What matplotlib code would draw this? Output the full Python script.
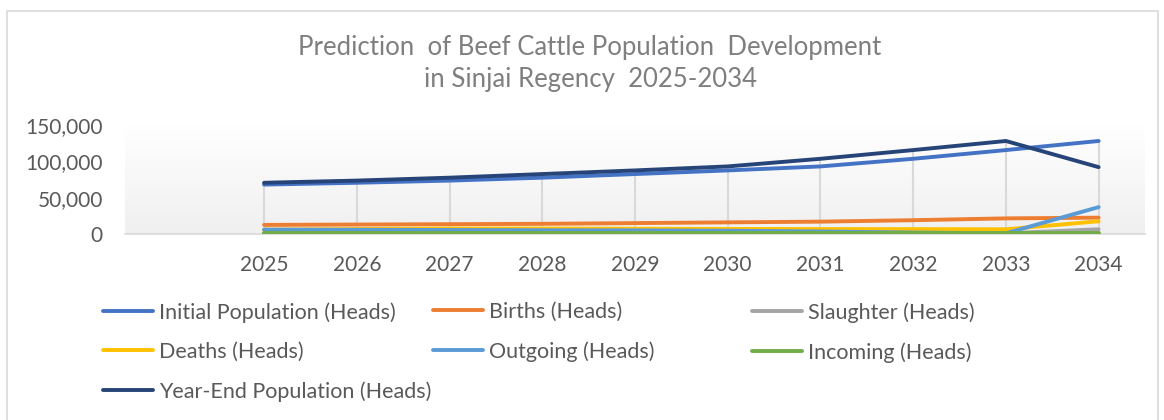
import matplotlib
matplotlib.use("Agg")
import matplotlib.pyplot as plt
import numpy as np
from matplotlib.lines import Line2D
from matplotlib.ticker import FuncFormatter

plt.rcParams["font.family"] = ["Lato", "DejaVu Sans"]

# data (heads); first category is blank in the source sheet
categories = ["", "2025", "2026", "2027", "2028", "2029", "2030", "2031", "2032", "2033", "2034"]
initial_population = [68000, 70500, 73500, 77500, 82500, 87500, 93000, 103500, 115500, 128000]
births = [12500, 13000, 13500, 14000, 15000, 16000, 17000, 19000, 21500, 22500]
slaughter = [1000, 1000, 1000, 1000, 1000, 1000, 1000, 1000, 1000, 6500]
deaths = [6000, 6800, 7500, 7500, 7300, 7000, 6800, 6700, 6500, 17500]
outgoing = [6000, 5800, 5500, 5200, 5000, 4500, 3500, 2000, 1000, 37000]
incoming = [800, 800, 800, 800, 800, 800, 800, 800, 800, 800]
year_end_population = [70500, 73500, 77500, 82500, 87500, 93000, 103500, 115500, 128000, 92000]

series = [
    ("Initial Population (Heads)", initial_population, "#4472C4"),
    ("Births (Heads)", births, "#ED7D31"),
    ("Slaughter (Heads)", slaughter, "#A5A5A5"),
    ("Deaths (Heads)", deaths, "#FFC000"),
    ("Outgoing (Heads)", outgoing, "#5B9BD5"),
    ("Incoming (Heads)", incoming, "#70AD47"),
    ("Year-End Population (Heads)", year_end_population, "#264478"),
]

W, H = 1164, 420
fig = plt.figure(figsize=(W / 100, H / 100), dpi=100)

# chart border
border = plt.Rectangle((7 / W, -0.05), 1151 / W, 1.05 - 11 / H, transform=fig.transFigure,
                       fill=False, edgecolor="#d9d9d9", linewidth=1.2)
fig.add_artist(border)

ax = fig.add_axes([125 / W, (H - 234) / H, 1020 / W, 109 / H])
ax.set_xlim(-0.5, len(categories) - 0.5)
ax.set_ylim(0, 150000)

# plot-area gradient
grad = np.linspace(0.0, 1.0, 256).reshape(-1, 1, 1)
top = np.array([1.0, 1.0, 1.0])
bottom = np.array([0.94, 0.94, 0.94])
img = top * (1 - grad) + bottom * grad
ax.imshow(img, extent=[-0.5, len(categories) - 0.5, 0, 150000], aspect="auto", zorder=0, origin="upper")

x = np.arange(1, len(categories))
all_vals = np.array([s[1] for s in series])
ax.vlines(x, 0, all_vals.max(axis=0), color="#d9d9d9", linewidth=1.5, zorder=1)

handles = {}
for name, vals, color in series:
    ax.plot(x, vals, color=color, linewidth=2.8, solid_capstyle="round",
            solid_joinstyle="round", zorder=3)
    handles[name] = Line2D([], [], color=color, linewidth=2.8, solid_capstyle="round")

for side in ["top", "right", "left"]:
    ax.spines[side].set_visible(False)
ax.spines["bottom"].set_color("#d9d9d9")
ax.spines["bottom"].set_linewidth(1.2)

ax.set_xticks(range(len(categories)))
ax.set_xticklabels(categories)
ax.set_yticks([0, 50000, 100000, 150000])
ax.yaxis.set_major_formatter(FuncFormatter(lambda v, p: f"{int(v):,}"))
ax.tick_params(axis="both", length=0, labelsize=15, colors="#595959")
ax.tick_params(axis="x", pad=15)
ax.tick_params(axis="y", pad=16)

fig.text(590 / W, 1 - 47 / H, "Prediction  of Beef Cattle Population  Development",
         ha="center", va="center", fontsize=18.5, color="#7f7f7f")
fig.text(590 / W, 1 - 80 / H, "in Sinjai Regency  2025-2034",
         ha="center", va="center", fontsize=18.5, color="#7f7f7f")

# legend laid out in three columns, filled row by row like the source
legend_columns = [
    (103, ["Initial Population (Heads)", "Deaths (Heads)", "Year-End Population (Heads)"]),
    (433, ["Births (Heads)", "Outgoing (Heads)"]),
    (752, ["Slaughter (Heads)", "Incoming (Heads)"]),
]
for x0, names in legend_columns:
    leg = fig.legend([handles[n] for n in names], names, loc="upper left",
                     bbox_to_anchor=(x0 / W, 1 - 302 / H), frameon=False, fontsize=15.5,
                     handlelength=2.3, handletextpad=0.28, labelspacing=0.9,
                     borderpad=0, borderaxespad=0, labelcolor="#595959")

fig.savefig("out.png", dpi=100)
